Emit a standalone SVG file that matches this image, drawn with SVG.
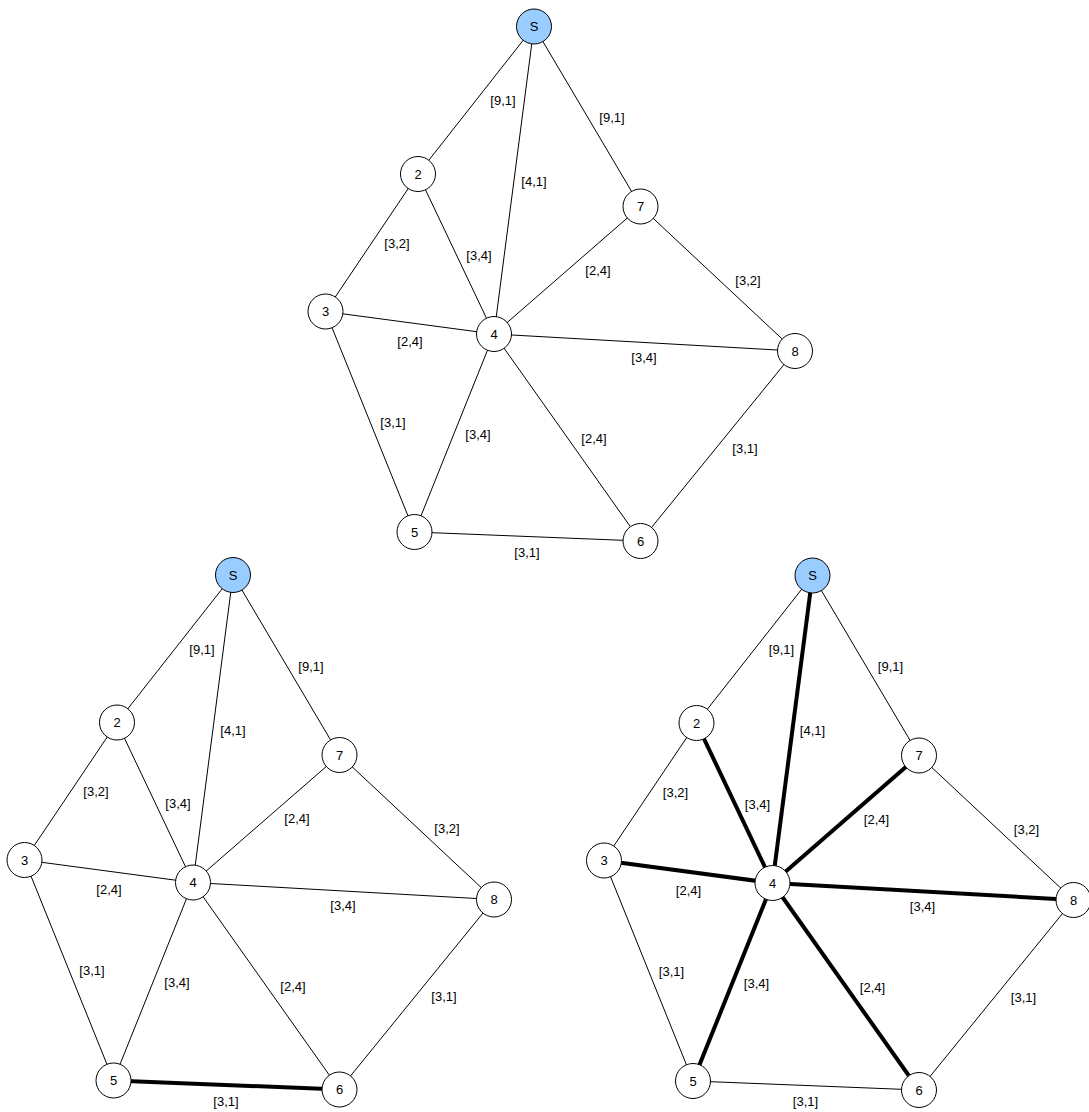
<svg xmlns="http://www.w3.org/2000/svg" width="1089" height="1112" viewBox="0 0 1089 1112">
<style>
.e{stroke:#000;stroke-width:1;fill:none}
.t{stroke:#000;stroke-width:4;fill:none}
.n{fill:#fff;stroke:#000;stroke-width:1}
.s{fill:#99ccff;stroke:#000;stroke-width:1}
text{font-family:"Liberation Sans",Arial,sans-serif;fill:#000;text-anchor:middle}
.nl{font-size:13px}
.el{font-size:13px}
</style>
<rect width="1089" height="1112" fill="#fff"/>

<!-- Graph 1 (top) -->
<g id="graph1">
<g id="g1-edges">
<line class="e" x1="534" y1="26.5" x2="418" y2="174"/>
<line class="e" x1="534" y1="26.5" x2="494" y2="334"/>
<line class="e" x1="534" y1="26.5" x2="640.5" y2="206.5"/>
<line class="e" x1="418" y1="174" x2="325.5" y2="311.5"/>
<line class="e" x1="418" y1="174" x2="494" y2="334"/>
<line class="e" x1="640.5" y1="206.5" x2="494" y2="334"/>
<line class="e" x1="640.5" y1="206.5" x2="795" y2="351"/>
<line class="e" x1="325.5" y1="311.5" x2="494" y2="334"/>
<line class="e" x1="494" y1="334" x2="795" y2="351"/>
<line class="e" x1="325.5" y1="311.5" x2="414.5" y2="532"/>
<line class="e" x1="494" y1="334" x2="414.5" y2="532"/>
<line class="e" x1="494" y1="334" x2="640.5" y2="541"/>
<line class="e" x1="795" y1="351" x2="640.5" y2="541"/>
<line class="e" x1="414.5" y1="532" x2="640.5" y2="541"/>
<text class="el" x="503" y="105">[9,1]</text>
<text class="el" x="534" y="186">[4,1]</text>
<text class="el" x="612" y="122">[9,1]</text>
<text class="el" x="397" y="247.5">[3,2]</text>
<text class="el" x="479" y="259.5">[3,4]</text>
<text class="el" x="598" y="274.5">[2,4]</text>
<text class="el" x="748" y="284.5">[3,2]</text>
<text class="el" x="410" y="345.5">[2,4]</text>
<text class="el" x="644" y="361.5">[3,4]</text>
<text class="el" x="393" y="426.5">[3,1]</text>
<text class="el" x="478" y="438.5">[3,4]</text>
<text class="el" x="594" y="442.5">[2,4]</text>
<text class="el" x="745" y="452.5">[3,1]</text>
<text class="el" x="527" y="557">[3,1]</text>
</g>
<g id="g1-S"><circle class="s" cx="534" cy="26.5" r="17.5"/><text class="nl" x="534" y="31.2">S</text></g>
<g id="g1-2"><circle class="n" cx="418" cy="174" r="17.5"/><text class="nl" x="418" y="178.7">2</text></g>
<g id="g1-7"><circle class="n" cx="640.5" cy="206.5" r="17.5"/><text class="nl" x="640.5" y="211.2">7</text></g>
<g id="g1-3"><circle class="n" cx="325.5" cy="311.5" r="17.5"/><text class="nl" x="325.5" y="316.2">3</text></g>
<g id="g1-4"><circle class="n" cx="494" cy="334" r="17.5"/><text class="nl" x="494" y="338.7">4</text></g>
<g id="g1-8"><circle class="n" cx="795" cy="351" r="17.5"/><text class="nl" x="795" y="355.7">8</text></g>
<g id="g1-5"><circle class="n" cx="414.5" cy="532" r="17.5"/><text class="nl" x="414.5" y="536.7">5</text></g>
<g id="g1-6"><circle class="n" cx="640.5" cy="541" r="17.5"/><text class="nl" x="640.5" y="545.7">6</text></g>
</g>

<!-- Graph 2 (bottom left) -->
<g id="graph2" transform="translate(-301,548.5)">
<g id="g2-edges">
<line class="e" x1="534" y1="26.5" x2="418" y2="174"/>
<line class="e" x1="534" y1="26.5" x2="494" y2="334"/>
<line class="e" x1="534" y1="26.5" x2="640.5" y2="206.5"/>
<line class="e" x1="418" y1="174" x2="325.5" y2="311.5"/>
<line class="e" x1="418" y1="174" x2="494" y2="334"/>
<line class="e" x1="640.5" y1="206.5" x2="494" y2="334"/>
<line class="e" x1="640.5" y1="206.5" x2="795" y2="351"/>
<line class="e" x1="325.5" y1="311.5" x2="494" y2="334"/>
<line class="e" x1="494" y1="334" x2="795" y2="351"/>
<line class="e" x1="325.5" y1="311.5" x2="414.5" y2="532"/>
<line class="e" x1="494" y1="334" x2="414.5" y2="532"/>
<line class="e" x1="494" y1="334" x2="640.5" y2="541"/>
<line class="e" x1="795" y1="351" x2="640.5" y2="541"/>
<line class="t" x1="414.5" y1="532" x2="640.5" y2="541"/>
<text class="el" x="503" y="105">[9,1]</text>
<text class="el" x="534" y="186">[4,1]</text>
<text class="el" x="612" y="122">[9,1]</text>
<text class="el" x="397" y="247.5">[3,2]</text>
<text class="el" x="479" y="259.5">[3,4]</text>
<text class="el" x="598" y="274.5">[2,4]</text>
<text class="el" x="748" y="284.5">[3,2]</text>
<text class="el" x="410" y="345.5">[2,4]</text>
<text class="el" x="644" y="361.5">[3,4]</text>
<text class="el" x="393" y="426.5">[3,1]</text>
<text class="el" x="478" y="438.5">[3,4]</text>
<text class="el" x="594" y="442.5">[2,4]</text>
<text class="el" x="745" y="452.5">[3,1]</text>
<text class="el" x="527" y="557">[3,1]</text>
</g>
<g id="g2-S"><circle class="s" cx="534" cy="26.5" r="17.5"/><text class="nl" x="534" y="31.2">S</text></g>
<g id="g2-2"><circle class="n" cx="418" cy="174" r="17.5"/><text class="nl" x="418" y="178.7">2</text></g>
<g id="g2-7"><circle class="n" cx="640.5" cy="206.5" r="17.5"/><text class="nl" x="640.5" y="211.2">7</text></g>
<g id="g2-3"><circle class="n" cx="325.5" cy="311.5" r="17.5"/><text class="nl" x="325.5" y="316.2">3</text></g>
<g id="g2-4"><circle class="n" cx="494" cy="334" r="17.5"/><text class="nl" x="494" y="338.7">4</text></g>
<g id="g2-8"><circle class="n" cx="795" cy="351" r="17.5"/><text class="nl" x="795" y="355.7">8</text></g>
<g id="g2-5"><circle class="n" cx="414.5" cy="532" r="17.5"/><text class="nl" x="414.5" y="536.7">5</text></g>
<g id="g2-6"><circle class="n" cx="640.5" cy="541" r="17.5"/><text class="nl" x="640.5" y="545.7">6</text></g>
</g>

<!-- Graph 3 (bottom right) -->
<g id="graph3" transform="translate(278.5,549)">
<g id="g3-edges">
<line class="e" x1="534" y1="26.5" x2="418" y2="174"/>
<line class="t" x1="534" y1="26.5" x2="494" y2="334"/>
<line class="e" x1="534" y1="26.5" x2="640.5" y2="206.5"/>
<line class="e" x1="418" y1="174" x2="325.5" y2="311.5"/>
<line class="t" x1="418" y1="174" x2="494" y2="334"/>
<line class="t" x1="640.5" y1="206.5" x2="494" y2="334"/>
<line class="e" x1="640.5" y1="206.5" x2="795" y2="351"/>
<line class="t" x1="325.5" y1="311.5" x2="494" y2="334"/>
<line class="t" x1="494" y1="334" x2="795" y2="351"/>
<line class="e" x1="325.5" y1="311.5" x2="414.5" y2="532"/>
<line class="t" x1="494" y1="334" x2="414.5" y2="532"/>
<line class="t" x1="494" y1="334" x2="640.5" y2="541"/>
<line class="e" x1="795" y1="351" x2="640.5" y2="541"/>
<line class="e" x1="414.5" y1="532" x2="640.5" y2="541"/>
<text class="el" x="503" y="105">[9,1]</text>
<text class="el" x="534" y="186">[4,1]</text>
<text class="el" x="612" y="122">[9,1]</text>
<text class="el" x="397" y="247.5">[3,2]</text>
<text class="el" x="479" y="259.5">[3,4]</text>
<text class="el" x="598" y="274.5">[2,4]</text>
<text class="el" x="748" y="284.5">[3,2]</text>
<text class="el" x="410" y="345.5">[2,4]</text>
<text class="el" x="644" y="361.5">[3,4]</text>
<text class="el" x="393" y="426.5">[3,1]</text>
<text class="el" x="478" y="438.5">[3,4]</text>
<text class="el" x="594" y="442.5">[2,4]</text>
<text class="el" x="745" y="452.5">[3,1]</text>
<text class="el" x="527" y="557">[3,1]</text>
</g>
<g id="g3-S"><circle class="s" cx="534" cy="26.5" r="17.5"/><text class="nl" x="534" y="31.2">S</text></g>
<g id="g3-2"><circle class="n" cx="418" cy="174" r="17.5"/><text class="nl" x="418" y="178.7">2</text></g>
<g id="g3-7"><circle class="n" cx="640.5" cy="206.5" r="17.5"/><text class="nl" x="640.5" y="211.2">7</text></g>
<g id="g3-3"><circle class="n" cx="325.5" cy="311.5" r="17.5"/><text class="nl" x="325.5" y="316.2">3</text></g>
<g id="g3-4"><circle class="n" cx="494" cy="334" r="17.5"/><text class="nl" x="494" y="338.7">4</text></g>
<g id="g3-8"><circle class="n" cx="795" cy="351" r="17.5"/><text class="nl" x="795" y="355.7">8</text></g>
<g id="g3-5"><circle class="n" cx="414.5" cy="532" r="17.5"/><text class="nl" x="414.5" y="536.7">5</text></g>
<g id="g3-6"><circle class="n" cx="640.5" cy="541" r="17.5"/><text class="nl" x="640.5" y="545.7">6</text></g>
</g>
</svg>
